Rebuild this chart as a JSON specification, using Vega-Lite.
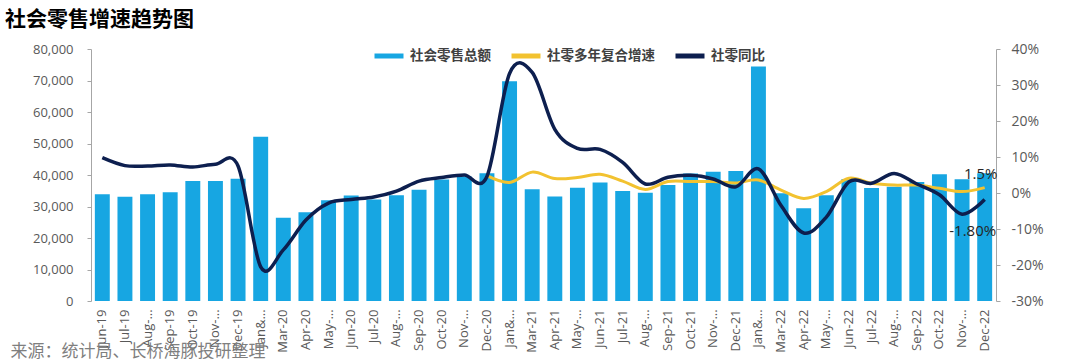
{
  "$schema": "https://vega.github.io/schema/vega-lite/v6.json",
  "width": 905,
  "height": 252,
  "autosize": "none",
  "padding": {"left": 91, "top": 49, "right": 84, "bottom": 63},
  "background": "white",
  "config": {"view": {"stroke": null}, "font": "Open Sans"},
  "title": {"text": "社会零售增速趋势图", "font": "Noto Sans CJK SC", "fontSize": 21, "fontWeight": "bold", "color": "#000000", "anchor": "start", "frame": "group", "dx": -86, "offset": 9},
  "data": {"values": [
    {"month": "Jun-19", "sales": 33878, "yoy": 0.098, "cagr": null},
    {"month": "Jul-19", "sales": 33073, "yoy": 0.076, "cagr": null},
    {"month": "Aug-19", "sales": 33896, "yoy": 0.075, "cagr": null},
    {"month": "Sep-19", "sales": 34495, "yoy": 0.078, "cagr": null},
    {"month": "Oct-19", "sales": 38104, "yoy": 0.072, "cagr": null},
    {"month": "Nov-19", "sales": 38094, "yoy": 0.080, "cagr": null},
    {"month": "Dec-19", "sales": 38777, "yoy": 0.075, "cagr": null},
    {"month": "Jan&Feb-20", "sales": 52130, "yoy": -0.205, "cagr": null},
    {"month": "Mar-20", "sales": 26450, "yoy": -0.158, "cagr": null},
    {"month": "Apr-20", "sales": 28178, "yoy": -0.075, "cagr": null},
    {"month": "May-20", "sales": 31973, "yoy": -0.028, "cagr": null},
    {"month": "Jun-20", "sales": 33526, "yoy": -0.018, "cagr": null},
    {"month": "Jul-20", "sales": 32203, "yoy": -0.011, "cagr": null},
    {"month": "Aug-20", "sales": 33571, "yoy": 0.005, "cagr": null},
    {"month": "Sep-20", "sales": 35295, "yoy": 0.033, "cagr": null},
    {"month": "Oct-20", "sales": 38576, "yoy": 0.043, "cagr": null},
    {"month": "Nov-20", "sales": 39514, "yoy": 0.050, "cagr": null},
    {"month": "Dec-20", "sales": 40566, "yoy": 0.046, "cagr": 0.048},
    {"month": "Jan&Feb-21", "sales": 69737, "yoy": 0.332, "cagr": 0.029},
    {"month": "Mar-21", "sales": 35484, "yoy": 0.335, "cagr": 0.058},
    {"month": "Apr-21", "sales": 33153, "yoy": 0.177, "cagr": 0.040},
    {"month": "May-21", "sales": 35945, "yoy": 0.124, "cagr": 0.043},
    {"month": "Jun-21", "sales": 37586, "yoy": 0.121, "cagr": 0.052},
    {"month": "Jul-21", "sales": 34925, "yoy": 0.085, "cagr": 0.033},
    {"month": "Aug-21", "sales": 34395, "yoy": 0.025, "cagr": 0.010},
    {"month": "Sep-21", "sales": 36833, "yoy": 0.044, "cagr": 0.032},
    {"month": "Oct-21", "sales": 40454, "yoy": 0.049, "cagr": 0.032},
    {"month": "Nov-21", "sales": 41043, "yoy": 0.039, "cagr": 0.032},
    {"month": "Dec-21", "sales": 41269, "yoy": 0.017, "cagr": 0.028},
    {"month": "Jan&Feb-22", "sales": 74426, "yoy": 0.067, "cagr": 0.036},
    {"month": "Mar-22", "sales": 34233, "yoy": -0.035, "cagr": 0.008},
    {"month": "Apr-22", "sales": 29483, "yoy": -0.111, "cagr": -0.015},
    {"month": "May-22", "sales": 33547, "yoy": -0.067, "cagr": 0.004},
    {"month": "Jun-22", "sales": 38742, "yoy": 0.031, "cagr": 0.041},
    {"month": "Jul-22", "sales": 35870, "yoy": 0.027, "cagr": 0.027},
    {"month": "Aug-22", "sales": 36258, "yoy": 0.054, "cagr": 0.022},
    {"month": "Sep-22", "sales": 37745, "yoy": 0.025, "cagr": 0.022},
    {"month": "Oct-22", "sales": 40271, "yoy": -0.005, "cagr": 0.013},
    {"month": "Nov-22", "sales": 38615, "yoy": -0.059, "cagr": 0.004},
    {"month": "Dec-22", "sales": 40542, "yoy": -0.018, "cagr": 0.015}
  ]},
  "encoding": {
    "x": {
      "field": "month", "type": "ordinal", "sort": null,
      "scale": {
        "domain": ["Jun-19","Jul-19","Aug-19","Sep-19","Oct-19","Nov-19","Dec-19","Jan&Feb-20","Mar-20","Apr-20","May-20","Jun-20","Jul-20","Aug-20","Sep-20","Oct-20","Nov-20","Dec-20","Jan&Feb-21","Mar-21","Apr-21","May-21","Jun-21","Jul-21","Aug-21","Sep-21","Oct-21","Nov-21","Dec-21","Jan&Feb-22","Mar-22","Apr-22","May-22","Jun-22","Jul-22","Aug-22","Sep-22","Oct-22","Nov-22","Dec-22"],
        "paddingInner": 0.34, "paddingOuter": 0.17
      },
      "axis": {
        "title": "来源：统计局、长桥海豚投研整理",
        "titleFont": "Noto Sans CJK SC", "titleFontSize": 17, "titleFontWeight": "normal", "titleColor": "#7f7f7f",
        "titleAnchor": "start", "titleAlign": "left", "titleX": -81, "titleY": 55, "titleBaseline": "alphabetic",
        "labelAngle": -90, "labelPadding": 8, "labelFontSize": 13, "labelColor": "#595959", "labelFont": "Open Sans",
        "labelOverlap": false, "ticks": false, "domain": false,
        "labelExpr": "(slice(datum.value, 0, 3) == 'Aug' || slice(datum.value, 0, 3) == 'Nov' || slice(datum.value, 0, 3) == 'May' || slice(datum.value, 0, 3) == 'Jan') ? slice(datum.value, 0, 4) + '…' : datum.value"
      }
    }
  },
  "layer": [
    {
      "mark": {"type": "bar"},
      "encoding": {
        "y": {
          "field": "sales", "type": "quantitative",
          "scale": {"domain": [0, 80000], "nice": false},
          "axis": {
            "orient": "left", "title": null, "grid": false,
            "values": [0, 10000, 20000, 30000, 40000, 50000, 60000, 70000, 80000], "format": ",d",
            "domainColor": "#a6a6a6", "tickColor": "#a6a6a6", "tickSize": 4, "labelPadding": 14,
            "labelFontSize": 13, "labelColor": "#595959", "labelFont": "Open Sans"
          }
        },
        "color": {
          "datum": "社会零售总额", "type": "nominal",
          "scale": {"domain": ["社会零售总额", "社零多年复合增速", "社零同比"], "range": ["#17A6E2", "#F2C230", "#0D1F4F"]},
          "legend": {
            "orient": "none", "legendX": 281, "legendY": -10, "direction": "horizontal", "title": null,
            "symbolType": "stroke", "symbolStrokeWidth": 5, "symbolSize": 841,
            "labelFont": "Noto Sans CJK SC", "labelFontSize": 13.5, "labelFontWeight": "bold", "labelColor": "#404040",
            "columnPadding": 10, "labelOffset": 4
          }
        }
      }
    },
    {
      "transform": [{"filter": "isValid(datum.cagr)"}],
      "mark": {"type": "line", "interpolate": "cardinal", "strokeWidth": 3},
      "encoding": {
        "y": {
          "field": "cagr", "type": "quantitative",
          "scale": {"domain": [-0.3, 0.4], "nice": false},
          "axis": {
            "orient": "right", "title": null, "grid": false,
            "values": [-0.3, -0.2, -0.1, 0, 0.1, 0.2, 0.3, 0.4],
            "labelExpr": "replace(format(datum.value, '.0%'), '−', '-')",
            "domainColor": "#a6a6a6", "tickColor": "#a6a6a6", "tickSize": 4, "labelPadding": 11,
            "labelFontSize": 14, "labelColor": "#595959", "labelFont": "Open Sans"
          }
        },
        "color": {"datum": "社零多年复合增速", "type": "nominal"}
      }
    },
    {
      "mark": {"type": "line", "interpolate": "cardinal", "strokeWidth": 3.5},
      "encoding": {
        "y": {"field": "yoy", "type": "quantitative", "scale": {"domain": [-0.3, 0.4], "nice": false}, "axis": null},
        "color": {"datum": "社零同比", "type": "nominal"}
      }
    },
    {
      "transform": [{"filter": "datum.month == 'Dec-22'"}],
      "mark": {"type": "text", "dy": -14, "dx": -4, "fontSize": 15, "color": "#262626", "font": "Open Sans"},
      "encoding": {
        "y": {"field": "cagr", "type": "quantitative", "scale": {"domain": [-0.3, 0.4], "nice": false}, "axis": null},
        "text": {"value": "1.5%"}
      }
    },
    {
      "transform": [{"filter": "datum.month == 'Dec-22'"}],
      "mark": {"type": "text", "dy": 32, "dx": -12, "fontSize": 15, "color": "#262626", "font": "Open Sans"},
      "encoding": {
        "y": {"field": "yoy", "type": "quantitative", "scale": {"domain": [-0.3, 0.4], "nice": false}, "axis": null},
        "text": {"value": "-1.80%"}
      }
    }
  ],
  "resolve": {"scale": {"y": "independent"}}
}
